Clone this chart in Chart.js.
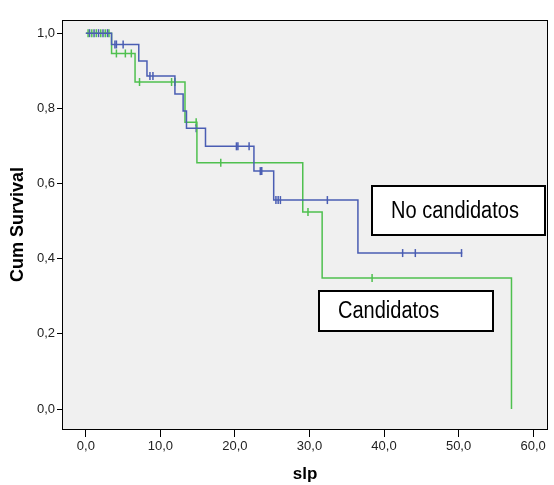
<!DOCTYPE html>
<html>
<head>
<meta charset="utf-8">
<script src="https://cdn.jsdelivr.net/npm/chart.js@4"></script>
<style>
  html, body { margin: 0; padding: 0; background: #ffffff; }
  #wrap { width: 554px; height: 485px; }
</style>
</head>
<body>
<div id="wrap"><canvas id="km"></canvas></div>
<script>
// Kaplan-Meier steps (time in slp, cumulative survival)
const noCandTimes   = [0, 3.45, 7.1, 8.2, 11.95, 13.05, 13.5, 16.05, 22.55, 25.2, 36.5, 50.5];
const noCandSurv    = [1, 0.970, 0.926, 0.886, 0.838, 0.793, 0.747, 0.699, 0.633, 0.556, 0.415, 0.415];
const noCandCensT   = [0.5, 1.1, 1.7, 2.3, 2.9, 3.9, 4.1, 5.0, 8.6, 9.0, 14.8, 20.2, 20.4, 21.9, 23.4, 23.6, 25.5, 25.8, 26.1, 32.4, 42.5, 44.2, 50.4];
const noCandCensS   = [1, 1, 1, 1, 1, 0.970, 0.970, 0.970, 0.886, 0.886, 0.747, 0.699, 0.699, 0.699, 0.633, 0.633, 0.556, 0.556, 0.556, 0.556, 0.415, 0.415, 0.415];

const candTimes     = [0, 3.45, 6.6, 13.3, 14.9, 29.1, 31.7, 57.1];
const candSurv      = [1, 0.946, 0.870, 0.763, 0.655, 0.524, 0.349, 0.0];
const candCensT     = [0.3, 0.8, 1.4, 2.0, 2.6, 3.1, 4.1, 5.3, 6.1, 7.2, 11.5, 11.95, 14.8, 18.1, 29.8, 38.4];
const candCensS     = [1, 1, 1, 1, 1, 1, 0.946, 0.946, 0.946, 0.870, 0.870, 0.870, 0.763, 0.655, 0.524, 0.349];

const xTicks = [0, 10, 20, 30, 40, 50, 60];
const xTickLabels = ['0,0', '10,0', '20,0', '30,0', '40,0', '50,0', '60,0'];
const yTicks = [0, 0.2, 0.4, 0.6, 0.8, 1.0];
const yTickLabels = ['0,0', '0,2', '0,4', '0,6', '0,8', '1,0'];

const blue = '#4a5db3';
const green = '#4fc04f';

function pts(xs, ys) { return xs.map((x, i) => ({ x: x, y: ys[i] })); }

// label boxes placed in data units
const labelBoxes = [
  { text: 'No candidatos', x0: 38.2, x1: 61.7, y0: 0.597, y1: 0.461 },
  { text: 'Candidatos', x0: 31.2, x1: 54.7, y0: 0.316, y1: 0.204 }
];

const frame = {
  id: 'frame',
  beforeDatasetsDraw(chart) {
    const a = chart.chartArea, c = chart.ctx;
    c.save();
    c.fillStyle = '#f0f0f0';
    c.fillRect(a.left, a.top, a.right - a.left, a.bottom - a.top);
    c.restore();
  },
  afterDraw(chart) {
    const a = chart.chartArea, c = chart.ctx;
    const xs = chart.scales.x, ys = chart.scales.y;
    c.save();
    c.strokeStyle = '#000';
    c.lineWidth = 1;
    c.strokeRect(a.left + 0.5, a.top + 0.5, a.right - a.left - 1, a.bottom - a.top);
    labelBoxes.forEach(b => {
      const l = Math.round(xs.getPixelForValue(b.x0)), r = Math.round(xs.getPixelForValue(b.x1));
      const t = Math.round(ys.getPixelForValue(b.y0)), btm = Math.round(ys.getPixelForValue(b.y1));
      c.fillStyle = '#fff';
      c.fillRect(l, t, r - l, btm - t);
      c.lineWidth = 2;
      c.strokeStyle = '#000';
      c.strokeRect(l + 1, t + 1, r - l - 2, btm - t - 2);
      c.fillStyle = '#000';
      c.font = '23px "Liberation Sans", Arial, sans-serif';
      c.textBaseline = 'middle';
      c.save();
      c.translate(l + 20, (t + btm) / 2 + 1);
      c.scale(0.87, 1);
      c.fillText(b.text, 0, 0);
      c.restore();
    });
    c.restore();
  }
};

new Chart(document.getElementById('km'), {
  type: 'scatter',
  data: {
    datasets: [
      { label: 'No candidatos', data: pts(noCandTimes, noCandSurv), showLine: true, stepped: 'before',
        borderColor: blue, borderWidth: 1.5, pointRadius: 0, fill: false },
      { label: 'Candidatos', data: pts(candTimes, candSurv), showLine: true, stepped: 'before',
        borderColor: green, borderWidth: 1.5, pointRadius: 0, fill: false },
      { label: 'No candidatos-censored', data: pts(noCandCensT, noCandCensS), showLine: false,
        pointStyle: 'line', rotation: 90, pointRadius: 4, borderColor: blue, borderWidth: 1.5 },
      { label: 'Candidatos-censored', data: pts(candCensT, candCensS), showLine: false,
        pointStyle: 'line', rotation: 90, pointRadius: 4, borderColor: green, borderWidth: 1.5 }
    ]
  },
  options: {
    responsive: true,
    maintainAspectRatio: false,
    animation: false,
    layout: { padding: { top: 20, right: 6, left: 0, bottom: 0 } },
    plugins: { legend: { display: false }, tooltip: { enabled: false } },
    scales: {
      x: {
        type: 'linear', min: -3.2, max: 62,
        afterBuildTicks: s => { s.ticks = xTicks.map(v => ({ value: v })); },
        afterFit: s => { s.height = 56; },
        grid: { drawOnChartArea: false, color: '#000', tickLength: 8, tickWidth: 1 },
        border: { display: false },
        ticks: { color: '#222', font: { size: 13, family: 'Liberation Sans, Arial' }, padding: 2,
                 maxRotation: 0, callback: (v) => xTickLabels[xTicks.indexOf(v)] },
        title: { display: true, text: 'slp', color: '#000', padding: { top: 0, bottom: 0 },
                 font: { size: 17, weight: 'bold', family: 'Liberation Sans, Arial' } }
      },
      y: {
        type: 'linear', min: -0.053, max: 1.035,
        afterBuildTicks: s => { s.ticks = yTicks.map(v => ({ value: v })); },
        afterFit: s => { s.width = 62; },
        grid: { drawOnChartArea: false, color: '#000', tickLength: 5, tickWidth: 1 },
        border: { display: false },
        ticks: { color: '#222', font: { size: 13, family: 'Liberation Sans, Arial' }, padding: 2,
                 callback: (v) => yTickLabels[yTicks.indexOf(v)] },
        title: { display: true, text: 'Cum Survival', color: '#000', padding: { top: 7, bottom: 0 },
                 font: { size: 18, weight: 'bold', family: 'Liberation Sans, Arial' } }
      }
    }
  },
  plugins: [frame]
});
</script>
</body>
</html>
